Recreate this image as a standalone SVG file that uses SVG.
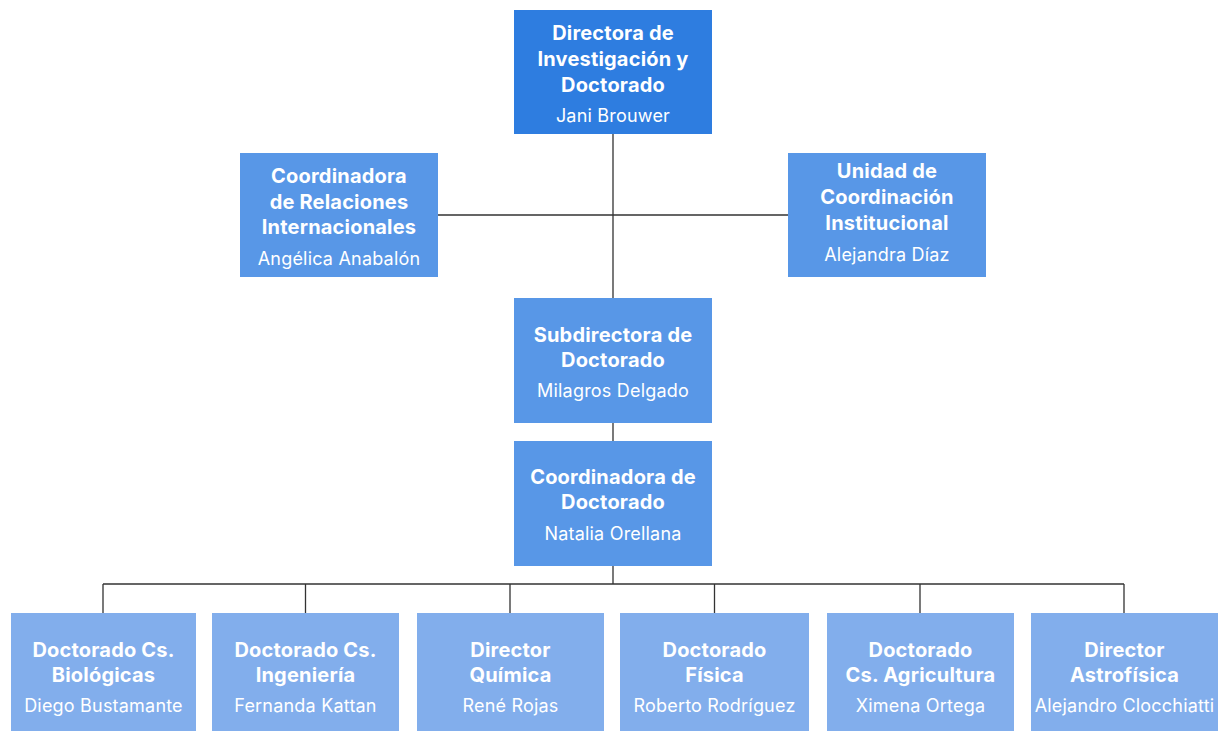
<svg xmlns="http://www.w3.org/2000/svg" width="1219" height="731" viewBox="0 0 1219 731">
<style>
.l1{fill:#2E7DE0}
.l2{fill:#5897E7}
.l3{fill:#82AEEC}
.t{font-family:Inter,"Noto Sans",sans-serif;font-weight:700;font-size:20px;letter-spacing:0.2px;fill:#fff;text-anchor:middle}
.n{font-family:Inter,"Noto Sans",sans-serif;font-weight:400;font-size:18px;letter-spacing:0.2px;fill:#fff;text-anchor:middle}
.c{stroke:#333;stroke-width:1.3;fill:none}
</style>
<rect width="1219" height="731" fill="#fff"/>
<g id="connectors">
<path class="c" d="M613 134V298M438 215H788M613 423V441M613 566V584M103 584H1124M103 584V613M305.5 584V613M510 584V613M714.5 584V613M920 584V613M1124 584V613"/>
</g>
<g id="n-director">
<rect class="l1" x="514" y="10" width="198" height="124"/>
<text class="t" x="613" y="40">Directora de</text>
<text class="t" x="613" y="66">Investigación y</text>
<text class="t" x="613" y="92">Doctorado</text>
<text class="n" x="613" y="122">Jani Brouwer</text>
</g>
<g id="n-relaciones">
<rect class="l2" x="240" y="153" width="198" height="124"/>
<text class="t" x="339" y="183">Coordinadora</text>
<text class="t" x="339" y="209">de Relaciones</text>
<text class="t" x="339" y="234">Internacionales</text>
<text class="n" x="339" y="265">Angélica Anabalón</text>
</g>
<g id="n-unidad">
<rect class="l2" x="788" y="153" width="198" height="124"/>
<text class="t" x="887" y="178">Unidad de</text>
<text class="t" x="887" y="204">Coordinación</text>
<text class="t" x="887" y="230">Institucional</text>
<text class="n" x="887" y="261">Alejandra Díaz</text>
</g>
<g id="n-subdirectora">
<rect class="l2" x="514" y="298" width="198" height="125"/>
<text class="t" x="613" y="342">Subdirectora de</text>
<text class="t" x="613" y="367">Doctorado</text>
<text class="n" x="613" y="397">Milagros Delgado</text>
</g>
<g id="n-coordinadora">
<rect class="l2" x="514" y="441" width="198" height="125"/>
<text class="t" x="613" y="484">Coordinadora de</text>
<text class="t" x="613" y="509">Doctorado</text>
<text class="n" x="613" y="540">Natalia Orellana</text>
</g>
<g id="n-biologicas">
<rect class="l3" x="11" y="613" width="185" height="118"/>
<text class="t" x="103.5" y="657">Doctorado Cs.</text>
<text class="t" x="103.5" y="682">Biológicas</text>
<text class="n" x="103.5" y="712">Diego Bustamante</text>
</g>
<g id="n-ingenieria">
<rect class="l3" x="212" y="613" width="187" height="118"/>
<text class="t" x="305.5" y="657">Doctorado Cs.</text>
<text class="t" x="305.5" y="682">Ingeniería</text>
<text class="n" x="305.5" y="712">Fernanda Kattan</text>
</g>
<g id="n-quimica">
<rect class="l3" x="417" y="613" width="187" height="118"/>
<text class="t" x="510.5" y="657">Director</text>
<text class="t" x="510.5" y="682">Química</text>
<text class="n" x="510.5" y="712">René Rojas</text>
</g>
<g id="n-fisica">
<rect class="l3" x="620" y="613" width="189" height="118"/>
<text class="t" x="714.5" y="657">Doctorado</text>
<text class="t" x="714.5" y="682">Física</text>
<text class="n" x="714.5" y="712">Roberto Rodríguez</text>
</g>
<g id="n-agricultura">
<rect class="l3" x="827" y="613" width="187" height="118"/>
<text class="t" x="920.5" y="657">Doctorado</text>
<text class="t" x="920.5" y="682">Cs. Agricultura</text>
<text class="n" x="920.5" y="712">Ximena Ortega</text>
</g>
<g id="n-astrofisica">
<rect class="l3" x="1031" y="613" width="187" height="118"/>
<text class="t" x="1124.5" y="657">Director</text>
<text class="t" x="1124.5" y="682">Astrofísica</text>
<text class="n" x="1124.5" y="712">Alejandro Clocchiatti</text>
</g>
</svg>
